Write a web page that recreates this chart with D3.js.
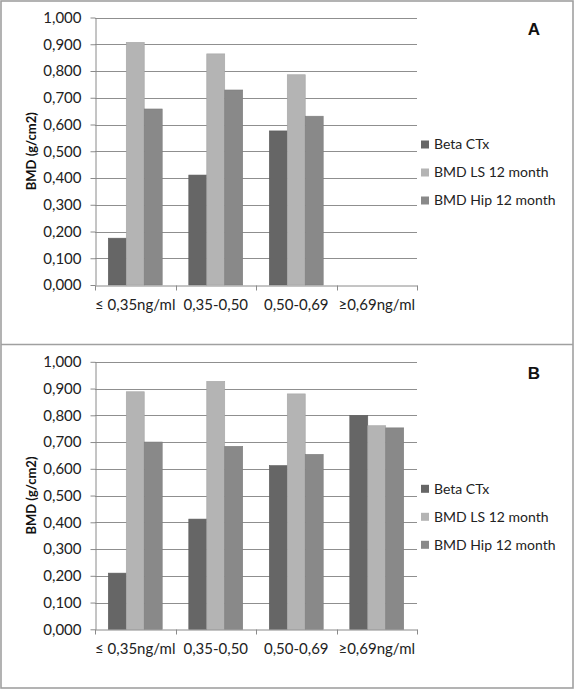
<!DOCTYPE html>
<html>
<head>
<meta charset="utf-8">
<script src="https://cdn.jsdelivr.net/npm/d3@7"></script>
<style>
  html, body { margin: 0; padding: 0; background: #fff; }
  svg { display: block; font-family: Lato, "Open Sans", sans-serif; }
</style>
</head>
<body>
<svg id="chart" width="575" height="690"></svg>
<script>
// ---- data ----
const categories = ["\u2264 0,35ng/ml", "0,35-0,50", "0,50-0,69", "\u22650,69ng/ml"];
const seriesNames = ["Beta CTx", "BMD LS 12 month", "BMD Hip 12 month"];
const panelLabels = ["A", "B"];
const yTicks = [0, 0.1, 0.2, 0.3, 0.4, 0.5, 0.6, 0.7, 0.8, 0.9, 1.0];
// panel A
const betaCTxA  = [0.175, 0.411, 0.576, null];
const bmdLSA    = [0.907, 0.864, 0.786, null];
const bmdHipA   = [0.658, 0.729, 0.631, null];
// panel B
const betaCTxB  = [0.210, 0.412, 0.612, 0.799];
const bmdLSB    = [0.888, 0.927, 0.880, 0.761];
const bmdHipB   = [0.700, 0.684, 0.654, 0.753];

const colors = ["#666666", "#b4b4b4", "#898989"];
const panels = [
  { label: panelLabels[0], series: [betaCTxA, bmdLSA, bmdHipA] },
  { label: panelLabels[1], series: [betaCTxB, bmdLSB, bmdHipB] }
];

const svg = d3.select("#chart");
const fmt = d => d3.format(".3f")(d).replace(".", ",");

// outer frame and divider
svg.append("rect").attr("x", 1).attr("y", 1).attr("width", 572).attr("height", 687)
  .attr("fill", "none").attr("stroke", "#a0a0a0").attr("stroke-width", 1.6);
svg.append("line").attr("x1", 1).attr("x2", 573).attr("y1", 344.5).attr("y2", 344.5)
  .attr("stroke", "#a0a0a0").attr("stroke-width", 1.6);

const plotLeft = 95, plotRight = 417;

panels.forEach((p, pi) => {
  const off = pi * 344.3;
  const top = 17.5 + off, bottom = 285 + off;
  const g = svg.append("g");

  const x = d3.scaleBand().domain(categories).range([plotLeft, plotRight]).paddingInner(0).paddingOuter(0);
  const x1 = d3.scaleBand().domain(seriesNames).range([0, x.bandwidth()]).paddingOuter(0.74).paddingInner(0);
  const y = d3.scaleLinear().domain([0, 1]).range([bottom, top]);

  // gridlines
  g.append("g").selectAll("line").data(yTicks.filter(t => t > 0)).join("line")
    .attr("x1", plotLeft).attr("x2", plotRight)
    .attr("y1", d => Math.round(y(d)) + 0.5).attr("y2", d => Math.round(y(d)) + 0.5)
    .attr("stroke", "#8f8f8f").attr("stroke-width", 1);

  // bars
  const grp = g.append("g").selectAll("g").data(categories).join("g")
    .attr("transform", d => `translate(${x(d)},0)`);
  grp.selectAll("rect")
    .data((c, ci) => seriesNames.map((s, si) => ({ s, si, v: p.series[si][ci] })).filter(d => d.v != null))
    .join("rect")
    .attr("x", d => x1(d.s))
    .attr("width", x1.bandwidth())
    .attr("y", d => y(d.v))
    .attr("height", d => y(0) - y(d.v))
    .attr("fill", d => colors[d.si])
    .attr("stroke", d => d3.color(colors[d.si]).darker(0.25))
    .attr("stroke-width", 0.6);

  // y axis
  const yAxis = d3.axisLeft(y).tickValues(yTicks).tickFormat(fmt).tickSize(5).tickPadding(9).tickSizeOuter(0);
  const ya = g.append("g").attr("transform", `translate(${plotLeft + 0.5},0)`).call(yAxis);
  ya.select(".domain").attr("stroke", "#8a8a8a");
  ya.selectAll(".tick line").attr("stroke", "#8a8a8a");
  ya.selectAll("text").attr("font-size", 15).attr("fill", "#222").attr("font-family", "Lato, sans-serif");

  // x axis
  const xAxis = d3.axisBottom(x).tickSize(0).tickPadding(14);
  const xa = g.append("g").attr("transform", `translate(0,${Math.round(bottom) + 0.5})`).call(xAxis);
  xa.select(".domain").attr("stroke", "#8a8a8a");
  xa.selectAll("text").attr("font-size", 15).attr("fill", "#222").attr("font-family", "Lato, sans-serif");
  // boundary ticks
  const bounds = categories.map(c => x(c)).concat([plotRight]);
  xa.selectAll(".bound").data(bounds).join("line").attr("class", "bound")
    .attr("x1", d => Math.round(d) + 0.5).attr("x2", d => Math.round(d) + 0.5)
    .attr("y1", 0).attr("y2", 5).attr("stroke", "#8a8a8a");

  // y title
  g.append("text")
    .attr("transform", `translate(36,${(top + bottom) / 2}) rotate(-90)`)
    .attr("text-anchor", "middle")
    .attr("font-size", 13).attr("font-weight", "bold").attr("fill", "#111")
    .text("BMD (g/cm2)");

  // panel label
  g.append("text").attr("x", 534).attr("y", 35 + off).attr("text-anchor", "middle")
    .attr("font-size", 17).attr("font-weight", "bold").attr("fill", "#111")
    .attr("font-family", "Liberation Sans, Arial, sans-serif")
    .text(p.label);

  // legend
  const lg = g.append("g").selectAll("g").data(seriesNames).join("g")
    .attr("transform", (d, i) => `translate(421,${144.5 + off + i * 28})`);
  lg.append("rect").attr("x", 0).attr("y", -4).attr("width", 8).attr("height", 8)
    .attr("fill", (d, i) => colors[i]);
  lg.append("text").attr("x", 13).attr("y", 0).attr("dy", "0.35em")
    .attr("font-size", 14).attr("fill", "#222").text(d => d);
});
</script>
</body>
</html>
